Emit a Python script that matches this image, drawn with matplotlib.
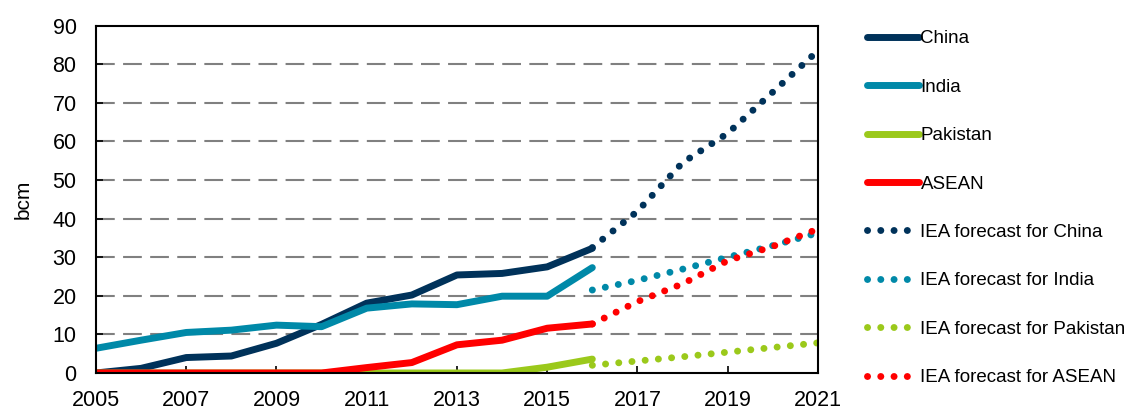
import matplotlib.pyplot as plt
import numpy as np

plt.rcParams['font.family'] = ['Liberation Sans', 'DejaVu Sans']

years = list(range(2005, 2017))
china = [0, 1.2, 4.0, 4.4, 7.7, 12.6, 18.1, 20.2, 25.4, 25.8, 27.5, 32.3]
india = [6.4, 8.5, 10.5, 11.1, 12.4, 12.0, 16.8, 17.9, 17.7, 19.9, 19.9, 27.3]
pakistan = [0, 0, 0, 0, 0, 0, 0, 0, 0, 0, 1.5, 3.6]
asean = [0, 0, 0, 0, 0, 0, 1.4, 2.7, 7.3, 8.5, 11.6, 12.7]

fc_years = list(range(2016, 2022))
fc_china = [32.5, 41.9, 54.5, 62.1, 72.8, 83.5]
fc_india = [21.5, 24.0, 26.9, 30.0, 33.0, 36.3]
fc_pakistan = [2.0, 3.1, 4.2, 5.4, 6.6, 7.8]
fc_asean = [12.7, 18.5, 23.1, 29.1, 32.8, 37.3]

colors = {'China': '#00325A', 'India': '#0089A8', 'Pakistan': '#9BC91B', 'ASEAN': '#FF0000'}

fig = plt.figure(figsize=(11.28, 4.11), dpi=100)
ax = fig.add_axes([0.0851, 0.0925, 0.64, 0.845])

for name, vals in [('China', china), ('India', india), ('Pakistan', pakistan), ('ASEAN', asean)]:
    ax.plot(years, vals, color=colors[name], linewidth=5, solid_capstyle='round',
            solid_joinstyle='round', label=name)

for name, vals in [('China', fc_china), ('India', fc_india), ('Pakistan', fc_pakistan), ('ASEAN', fc_asean)]:
    ax.plot(fc_years, vals, color=colors[name], linewidth=5, linestyle=(0, (0.01, 1.9)),
            dash_capstyle='round', label='IEA forecast for ' + name)

ax.set_xlim(2005, 2021)
ax.set_ylim(0, 90)
ax.set_xticks(range(2005, 2022, 2))
ax.set_yticks(range(0, 91, 10))
for y in range(10, 90, 10):
    ax.axhline(y, color='#808080', linewidth=1.5, linestyle=(0, (9, 4)), zorder=0)

for s in ax.spines.values():
    s.set_linewidth(1.5)
    s.set_color('black')
ax.tick_params(axis='x', direction='in', length=5, width=1.2, pad=12, labelsize=15.5)
ax.tick_params(axis='y', direction='in', length=5, width=1.2, pad=14, labelsize=15.5)
ax.set_ylabel('bcm', fontsize=15, labelpad=14)

leg = ax.legend(loc='upper left', bbox_to_anchor=(0.762, 0.945), bbox_transform=fig.transFigure,
                frameon=False, fontsize=13.5, handlelength=2.75, handletextpad=0.1,
                labelspacing=1.67, borderaxespad=0)

fig.savefig('out.png', dpi=100)
